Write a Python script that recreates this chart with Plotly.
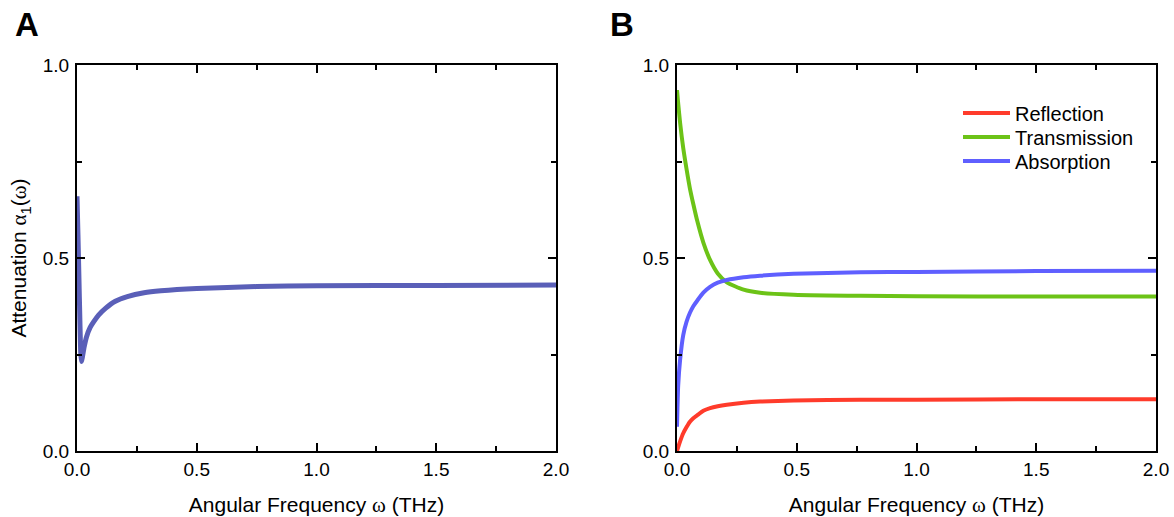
import plotly.graph_objects as go
from plotly.subplots import make_subplots

# Panel A data: attenuation alpha_1(omega)
omega_a = [0, 0.004, 0.008, 0.012, 0.016, 0.019, 0.023, 0.03, 0.04, 0.055, 0.07, 0.09,
           0.12, 0.16, 0.21, 0.28, 0.35, 0.5, 0.75, 1.0, 1.5, 2.0]
atten = [0.66, 0.56, 0.45, 0.34, 0.25, 0.232, 0.245, 0.27, 0.296, 0.32, 0.335, 0.352,
         0.37, 0.388, 0.40, 0.41, 0.415, 0.421, 0.426, 0.428, 0.429, 0.43]

# Panel B data
omega_b = [0, 0.005, 0.013, 0.026, 0.04, 0.054, 0.068, 0.085, 0.11, 0.138, 0.17, 0.208,
           0.278, 0.347, 0.487, 0.766, 1.0, 1.5, 2.0]
reflection = [0.0, 0.01, 0.025, 0.046, 0.062, 0.076, 0.085, 0.093, 0.104, 0.111, 0.116, 0.12,
              0.125, 0.128, 0.131, 0.133, 0.133, 0.134, 0.134]
transmission = [0.935, 0.90, 0.85, 0.785, 0.73, 0.68, 0.64, 0.595, 0.54, 0.495, 0.46, 0.437,
                0.418, 0.41, 0.405, 0.402, 0.401, 0.40, 0.40]
absorption = [0.063, 0.17, 0.236, 0.30, 0.335, 0.358, 0.375, 0.39, 0.41, 0.425, 0.436, 0.443,
              0.45, 0.454, 0.459, 0.463, 0.464, 0.466, 0.467]

x_ticks = [0, 0.5, 1.0, 1.5, 2.0]
x_ticklabels = ["0.0", "0.5", "1.0", "1.5", "2.0"]
y_ticks = [0, 0.5, 1.0]
y_ticklabels = ["0.0", "0.5", "1.0"]

FONT = "Liberation Sans, Arial, sans-serif"
W, H = 1174, 517

fig = make_subplots(rows=1, cols=2)

fig.add_trace(go.Scatter(x=omega_a, y=atten, mode="lines", showlegend=False,
                         line=dict(color="#5a5fb8", width=5, shape="spline", smoothing=0.6)),
              row=1, col=1)
fig.add_trace(go.Scatter(x=omega_b, y=reflection, mode="lines", name="Reflection", legend="legend",
                         line=dict(color="#ff3b2b", width=4, shape="spline", smoothing=0.6)),
              row=1, col=2)
fig.add_trace(go.Scatter(x=omega_b, y=transmission, mode="lines", name="Transmission", legend="legend2",
                         line=dict(color="#6cc317", width=4, shape="spline", smoothing=0.6)),
              row=1, col=2)
fig.add_trace(go.Scatter(x=omega_b, y=absorption, mode="lines", name="Absorption", legend="legend3",
                         line=dict(color="#5f5fff", width=4, shape="spline", smoothing=0.6)),
              row=1, col=2)

ax_common = dict(showgrid=False, zeroline=False, showline=True, linecolor="black", linewidth=2,
                 mirror="allticks", ticks="inside", ticklen=8, tickwidth=1.5, tickcolor="black",
                 automargin=False,
                 tickfont=dict(family=FONT, size=19, color="black"),
                 minor=dict(ticks="inside", ticklen=5, tickwidth=1.5, tickcolor="black", showgrid=False))

xtitle = "Angular Frequency <span style='font-family:Liberation Serif'>ω</span> (THz)"
ytitle = ("Attenuation <span style='font-family:Liberation Serif'>α</span><sub>1</sub>"
          "(<span style='font-family:Liberation Serif'>ω</span>)")

for i, dom in enumerate([(77 / W, 556 / W), (677 / W, 1156 / W)], start=1):
    fig.update_xaxes(row=1, col=i, range=[0, 2], domain=list(dom), tickvals=x_ticks,
                     ticktext=x_ticklabels, minor_dtick=0.25, minor_tick0=0,
                     title=dict(text=xtitle, font=dict(family=FONT, size=21, color="black"), standoff=21),
                     **ax_common)
    fig.update_yaxes(row=1, col=i, range=[0, 1], domain=[1 - 451 / H, 1 - 65 / H], tickvals=y_ticks,
                     ticktext=y_ticklabels, minor_dtick=0.25, minor_tick0=0,
                     ticklabelstandoff=2,
                     **ax_common)

fig.update_yaxes(row=1, col=1, title=dict(text=ytitle, font=dict(family=FONT, size=21, color="black"),
                                          standoff=10))

fig.add_annotation(text="<b>A</b>", x=27 / W, y=1 - 25 / H, xref="paper", yref="paper",
                   xanchor="center", yanchor="middle",
                   showarrow=False, font=dict(family=FONT, size=33, color="black"))
fig.add_annotation(text="<b>B</b>", x=622 / W, y=1 - 25 / H, xref="paper", yref="paper",
                   xanchor="center", yanchor="middle",
                   showarrow=False, font=dict(family=FONT, size=33, color="black"))

leg_common = dict(xanchor="left", yanchor="middle", bgcolor="rgba(0,0,0,0)",
                  font=dict(family=FONT, size=20, color="black"), itemwidth=47)

fig.update_layout(
    width=W, height=H, margin=dict(l=0, r=0, t=0, b=0, autoexpand=False),
    paper_bgcolor="white", plot_bgcolor="white",
    font=dict(family=FONT, color="black"),
    legend=dict(x=958 / W, y=1 - 113 / H, **leg_common),
    legend2=dict(x=958 / W, y=1 - 137 / H, **leg_common),
    legend3=dict(x=958 / W, y=1 - 161 / H, **leg_common),
)

fig.write_html("out.html", config={"displayModeBar": False},
               post_script="document.body.style.margin='0';document.body.style.overflow='hidden';")
